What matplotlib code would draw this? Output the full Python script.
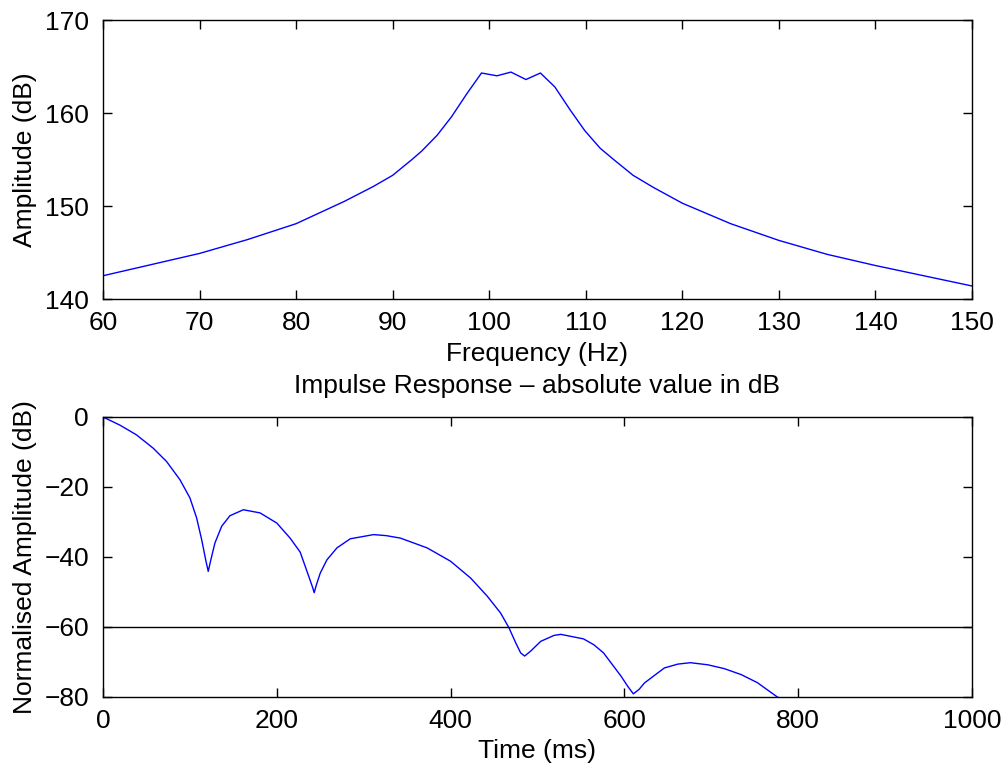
import numpy as np
import matplotlib
matplotlib.use("Agg")
import matplotlib.pyplot as plt

# -----------------------------
# Data
# -----------------------------
freq_hz = [60, 65, 70, 75, 80, 85, 88, 90, 92, 93, 94.6, 96.1, 97.7, 99.2,
           100.8, 102.25, 103.8, 105.3, 106.8, 108.4, 109.9, 111.5, 113,
           114.9, 117, 120, 125, 130, 135, 140, 145, 150]
amp_db = [142.5, 143.7, 144.9, 146.4, 148.1, 150.5, 152.1, 153.3, 155.0, 155.9,
          157.6, 159.6, 162.1, 164.3, 164.0, 164.4, 163.6, 164.3, 162.8, 160.3,
          158.1, 156.2, 154.9, 153.3, 152.0, 150.3, 148.1, 146.3, 144.8, 143.6,
          142.5, 141.4]

time_ms = [0, 19.3, 38.5, 57.7, 73.1, 88.5, 100, 107.7, 113.5, 118.5, 121.1,
           124.2, 128.8, 136.6, 146.1, 161.5, 180.7, 200, 215.3, 226.9, 234.6,
           241.1, 243, 245.5, 250, 257.7, 269.2, 284.5, 311.4, 326, 342.2, 373,
           399.9, 423, 442.2, 457.5, 467.1, 474.9, 480.6, 485.2, 492.1, 503.7,
           519, 526.8, 553, 565, 576, 596, 603.7, 610.3, 617, 623, 646, 661.5,
           676, 696, 715, 734.4, 753, 776, 790]
ir_db = [0, -2.3, -5.1, -8.9, -12.7, -17.9, -23.1, -28.8, -35.0, -41.2, -44.1,
         -40.7, -36.0, -31.2, -28.2, -26.5, -27.4, -30.3, -34.6, -38.6, -44.0,
         -48.6, -50.2, -48.0, -44.6, -40.8, -37.4, -34.8, -33.6, -33.9, -34.6,
         -37.4, -41.2, -46.0, -51.2, -56.0, -60.2, -64.5, -67.4, -68.3, -66.9,
         -64.1, -62.4, -62.1, -63.4, -65.1, -67.4, -74.0, -76.9, -79.1, -77.8,
         -76.0, -71.7, -70.6, -70.2, -70.8, -71.9, -73.6, -75.9, -80.0, -81.5]

threshold_db = -60

plt.rcParams['font.family'] = ['Liberation Sans', 'DejaVu Sans']
plt.rcParams['font.size'] = 19

fig = plt.figure(figsize=(10.08, 7.69), dpi=100)
ax1 = fig.add_axes([103/1008, 1 - 299/769, 869/1008, 279/769])
ax2 = fig.add_axes([103/1008, 1 - 697/769, 869/1008, 280/769])

# Frequency response
ax1.plot(freq_hz, amp_db, color='blue', linewidth=1.0)
ax1.set_xlim(60, 150)
ax1.set_ylim(140, 170)
ax1.set_xticks(np.arange(60, 151, 10))
ax1.set_yticks(np.arange(140, 171, 10))
ax1.set_xlabel("Frequency (Hz)", labelpad=5)
ax1.set_ylabel("Amplitude (dB)", labelpad=5.5)

# Impulse response
ax2.plot(time_ms, ir_db, color='blue', linewidth=1.0)
ax2.axhline(threshold_db, color='black', linewidth=1.0)
ax2.set_xlim(0, 1000)
ax2.set_ylim(-80, 0)
ax2.set_xticks(np.arange(0, 1001, 200))
ax2.set_yticks(np.arange(-80, 1, 20))
ax2.set_xlabel("Time (ms)", labelpad=4)
ax2.set_ylabel("Normalised Amplitude (dB)", labelpad=5.5)
ax2.set_title("Impulse Response \u2013 absolute value in dB", pad=17, fontsize=19)

for ax in (ax1, ax2):
    ax.tick_params(direction='in', top=True, right=True, length=6.5, width=1.0)
    ax.tick_params(axis='x', pad=9)
    ax.tick_params(axis='y', pad=10)
    for s in ax.spines.values():
        s.set_linewidth(1.0)

fig.savefig("out.png", dpi=100)
